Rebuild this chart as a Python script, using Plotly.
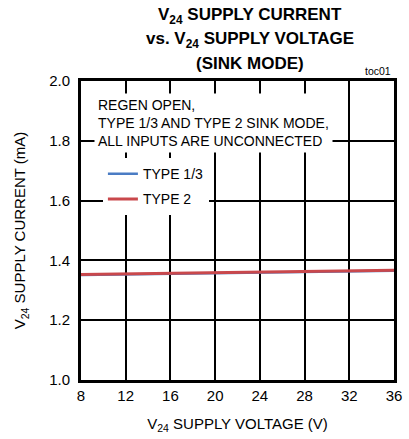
import plotly.graph_objects as go

voltage = [8, 12, 16, 20, 24, 28, 32, 36]
type13_current = [1.351, 1.353, 1.355, 1.357, 1.359, 1.361, 1.363, 1.365]
type2_current = [1.353, 1.355, 1.357, 1.359, 1.361, 1.363, 1.365, 1.367]
x_ticks = [8, 12, 16, 20, 24, 28, 32, 36]
y_ticks = [1.0, 1.2, 1.4, 1.6, 1.8, 2.0]
title_lines = ["V<sub>24</sub> SUPPLY CURRENT", "vs. V<sub>24</sub> SUPPLY VOLTAGE", "(SINK MODE)"]

FONT = "Liberation Sans, Arial"

fig = go.Figure()
fig.add_trace(go.Scatter(x=voltage, y=type13_current, mode="lines", name="TYPE 1/3",
                         legendgroup="a", line=dict(color="#4a7cc4", width=2.5)))
fig.add_trace(go.Scatter(x=voltage, y=type2_current, mode="lines", name="TYPE 2",
                         legendgroup="b", line=dict(color="#c9484c", width=3)))

fig.update_layout(
    width=409, height=439,
    margin=dict(l=81, r=7, t=81, b=59),
    paper_bgcolor="white", plot_bgcolor="white",
    font=dict(family=FONT, size=14, color="black"),
    showlegend=True,
    legend=dict(x=0.07, y=0.742, xanchor="left", yanchor="top", bgcolor="white",
                font=dict(size=14, family=FONT), traceorder="grouped", tracegroupgap=4,
                itemwidth=30),
    xaxis=dict(range=[8, 36], tickvals=x_ticks, showgrid=True, gridcolor="black", gridwidth=1.5,
               showline=True, linecolor="black", linewidth=3, mirror=True, ticks="",
               tickfont=dict(size=15), zeroline=False, ticklabelstandoff=0,
               title=dict(text="V<sub>24</sub> SUPPLY VOLTAGE (V)", font=dict(size=15), standoff=16)),
    yaxis=dict(range=[1.0, 2.0], tickvals=y_ticks, tickformat=".1f", showgrid=True, gridcolor="black",
               gridwidth=1.5, showline=True, linecolor="black", linewidth=3, mirror=True, ticks="",
               tickfont=dict(size=15), zeroline=False, ticklabelstandoff=5,
               title=dict(text="V<sub>24</sub> SUPPLY CURRENT (mA)", font=dict(size=15), standoff=20)),
)

for line, shift in zip(title_lines, [65, 41, 18]):
    fig.add_annotation(text="<b>" + line + "</b>", xref="paper", yref="paper", x=0.54, y=1.0,
                       yshift=shift, xanchor="center", yanchor="middle", showarrow=False,
                       font=dict(size=17, family=FONT))
fig.add_annotation(text="toc01", xref="paper", yref="paper", x=1.0, y=1.0, yshift=2, xshift=-1,
                   xanchor="right", yanchor="bottom", showarrow=False, font=dict(size=10.5, family=FONT))
fig.add_annotation(text="REGEN OPEN,<br>TYPE 1/3 AND TYPE 2 SINK MODE,<br>ALL INPUTS ARE UNCONNECTED",
                   xref="paper", yref="paper", x=0.041, y=0.96, xanchor="left", yanchor="top",
                   align="left", showarrow=False, bgcolor="white", borderpad=3,
                   font=dict(size=14, family=FONT))

fig.write_html("out.html", config={"displayModeBar": False},
               post_script="document.body.style.margin='0';")
